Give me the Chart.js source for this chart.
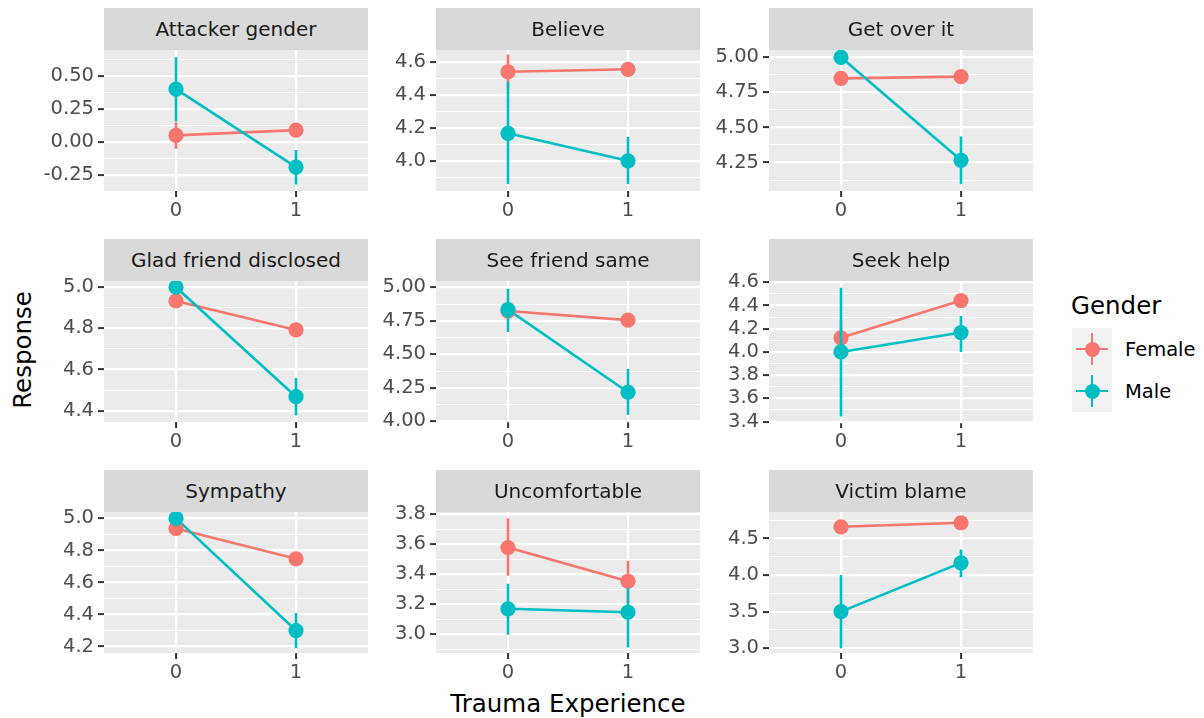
<!DOCTYPE html>
<html>
<head>
<meta charset="utf-8">
<script src="https://cdn.jsdelivr.net/npm/chart.js@4.4.1/dist/chart.umd.min.js"></script>
<style>
  body { margin: 0; background: #fff; font-family: "DejaVu Sans", sans-serif; }
  #wrap { position: relative; width: 1204px; height: 718px; overflow: hidden; }
  canvas { position: absolute; }
  .strip { position: absolute; background: #D9D9D9; color: #1A1A1A; font-size: 20px;
           display: flex; align-items: center; justify-content: center; z-index: 2; }
  .title { position: absolute; color: #000; font-size: 24.5px; white-space: nowrap; }
  .key { position: absolute; width: 40px; height: 42px; background: #F2F2F2; }
  .key .h { position: absolute; left: 4px; top: 19.6px; width: 32px; height: 2.8px; }
  .key .v { position: absolute; left: 18.6px; top: 5px; width: 2.8px; height: 32px; }
  .key .dot { position: absolute; left: 12.5px; top: 13.5px; width: 15px; height: 15px; border-radius: 50%; }
  .lab { position: absolute; color: #000; font-size: 19.5px; }
</style>
</head>
<body>
<div id="wrap"></div>
<script>
// ---------------- DATA ----------------
const panels = ['Attacker gender', 'Believe', 'Get over it',
                'Glad friend disclosed', 'See friend same', 'Seek help',
                'Sympathy', 'Uncomfortable', 'Victim blame'];
const trauma = [0, 1];

const femaleMean = [[0.05, 0.09], [4.54, 4.555], [4.85, 4.862], [4.933, 4.792], [4.823, 4.755],
                    [4.122, 4.443], [4.937, 4.748], [3.578, 3.353], [4.66, 4.715]];
const femaleLo = [[-0.05, 0.06], [4.44, 4.53], [4.80, 4.83], [4.90, 4.76], [4.79, 4.72],
                  [3.97, 4.41], [4.90, 4.72], [3.39, 3.21], [4.62, 4.66]];
const femaleHi = [[0.15, 0.12], [4.644, 4.58], [4.90, 4.89], [4.97, 4.83], [4.86, 4.79],
                  [4.27, 4.48], [4.97, 4.78], [3.773, 3.49], [4.70, 4.77]];

const maleMean = [[0.40, -0.19], [4.167, 4.0], [5.0, 4.266], [5.0, 4.468], [4.833, 4.217],
                  [4.0, 4.167], [5.0, 4.3], [3.169, 3.146], [3.5, 4.167]];
const maleLo = [[0.155, -0.32], [3.86, 3.86], [5.0, 4.096], [5.0, 4.377], [4.667, 4.05],
                [3.445, 4.0], [5.0, 4.19], [2.995, 2.91], [3.0, 3.97]];
const maleHi = [[0.64, -0.06], [4.48, 4.145], [5.0, 4.436], [5.0, 4.559], [4.99, 4.39],
                [4.553, 4.31], [5.0, 4.41], [3.336, 3.31], [4.0, 4.35]];

const yMin = [-0.37, 3.817, 4.047, 4.345, 3.995, 3.397, 4.16, 2.874, 2.935];
const yMax = [0.695, 4.672, 5.052, 5.03, 5.047, 4.611, 5.04, 3.815, 4.862];

const yTicks = [[-0.25, 0, 0.25, 0.5], [4.0, 4.2, 4.4, 4.6], [4.25, 4.5, 4.75, 5.0],
                [4.4, 4.6, 4.8, 5.0], [4.0, 4.25, 4.5, 4.75, 5.0], [3.4, 3.6, 3.8, 4.0, 4.2, 4.4, 4.6],
                [4.2, 4.4, 4.6, 4.8, 5.0], [3.0, 3.2, 3.4, 3.6, 3.8], [3.0, 3.5, 4.0, 4.5]];
const yTickLabels = [['-0.25', '0.00', '0.25', '0.50'], ['4.0', '4.2', '4.4', '4.6'],
                     ['4.25', '4.50', '4.75', '5.00'], ['4.4', '4.6', '4.8', '5.0'],
                     ['4.00', '4.25', '4.50', '4.75', '5.00'],
                     ['3.4', '3.6', '3.8', '4.0', '4.2', '4.4', '4.6'],
                     ['4.2', '4.4', '4.6', '4.8', '5.0'], ['3.0', '3.2', '3.4', '3.6', '3.8'],
                     ['3.0', '3.5', '4.0', '4.5']];

const FEMALE = '#F8766D';
const MALE = '#00BFC4';

// ---------------- LAYOUT ----------------
const colLeft = [104, 436, 769];
const stripTop = [8, 239, 470];
const plotW = 264, plotH = 141, stripH = 42;
const axisW = 64, axisH = 34, padTop = 12;
const wrap = document.getElementById('wrap');

const bgPlugin = {
  id: 'panelBg',
  beforeDraw(chart) {
    const a = chart.chartArea, c = chart.ctx;
    c.save();
    c.fillStyle = '#EBEBEB';
    c.fillRect(a.left, a.top, a.right - a.left, a.bottom - a.top);
    c.restore();
  }
};

function errData(lo, hi) {
  return [{ x: trauma[0], y: lo[0] }, { x: trauma[0], y: hi[0] }, { x: 0.5, y: null },
          { x: trauma[1], y: lo[1] }, { x: trauma[1], y: hi[1] }];
}
function ptData(m) {
  return trauma.map((t, i) => ({ x: t, y: m[i] }));
}

function drawPanel(p) {
  const row = Math.floor(p / 3), col = p % 3;
  const left = colLeft[col], top = stripTop[row] + stripH;

  const strip = document.createElement('div');
  strip.className = 'strip';
  strip.style.left = left + 'px';
  strip.style.top = stripTop[row] + 'px';
  strip.style.width = plotW + 'px';
  strip.style.height = stripH + 'px';
  strip.textContent = panels[p];
  wrap.appendChild(strip);

  const cv = document.createElement('canvas');
  cv.width = plotW + axisW;
  cv.height = plotH + padTop + axisH;
  cv.style.left = (left - axisW) + 'px';
  cv.style.top = (top - padTop) + 'px';
  wrap.appendChild(cv);

  // major ticks + minor ticks at the midpoints
  const major = yTicks[p];
  const step = major[1] - major[0];
  const minor = [major[0] - step / 2].concat(major.map(v => v + step / 2));
  const allTicks = major.concat(minor).filter(v => v >= yMin[p] && v <= yMax[p]).sort((a, b) => a - b);
  const isMajor = v => major.some(m => Math.abs(m - v) < 1e-6);

  const line = (data, color, order) => ({
    data, borderColor: color, backgroundColor: color, borderWidth: 2.6,
    pointRadius: 0, showLine: true, spanGaps: false, order, clip: 0
  });
  const pts = (data, color, order) => ({
    data, backgroundColor: color, borderColor: color, borderWidth: 0,
    pointRadius: 7.6, showLine: false, order, clip: 0
  });

  new Chart(cv, {
    type: 'line',
    data: {
      datasets: [
        pts(ptData(maleMean[p]), MALE, 0),
        line(errData(maleLo[p], maleHi[p]), MALE, 1),
        pts(ptData(femaleMean[p]), FEMALE, 2),
        line(errData(femaleLo[p], femaleHi[p]), FEMALE, 3),
        line(ptData(maleMean[p]), MALE, 4),
        line(ptData(femaleMean[p]), FEMALE, 5)
      ]
    },
    options: {
      responsive: false,
      animation: false,
      layout: { autoPadding: false, padding: { top: padTop, left: 0, right: 0, bottom: 0 } },
      plugins: { legend: { display: false }, tooltip: { enabled: false } },
      scales: {
        x: {
          type: 'linear', min: -0.6, max: 1.6,
          afterBuildTicks: s => { s.ticks = trauma.map(v => ({ value: v })); },
          afterFit: s => { s.height = axisH; s.paddingLeft = 0; s.paddingRight = 0; },
          border: { display: false },
          grid: { color: '#FFFFFF', lineWidth: 2.2, tickColor: '#333333', tickLength: 6, tickWidth: 2 },
          ticks: {
            color: '#4D4D4D', font: { family: 'DejaVu Sans', size: 19.5 }, padding: 2,
            autoSkip: false, maxRotation: 0, callback: v => String(v)
          }
        },
        y: {
          type: 'linear', min: yMin[p], max: yMax[p],
          afterBuildTicks: s => { s.ticks = allTicks.map(v => ({ value: v })); },
          afterFit: s => { s.width = axisW; s.paddingTop = 0; s.paddingBottom = 0; },
          border: { display: false },
          grid: {
            color: '#FFFFFF',
            lineWidth: ctx => (ctx.tick && isMajor(ctx.tick.value)) ? 2.2 : 1.1,
            tickColor: ctx => (ctx.tick && isMajor(ctx.tick.value)) ? '#333333' : 'rgba(0,0,0,0)',
            tickLength: 6, tickWidth: 2
          },
          ticks: {
            color: '#4D4D4D', font: { family: 'DejaVu Sans', size: 19.5 }, padding: 4,
            autoSkip: false,
            callback: v => {
              const i = major.findIndex(m => Math.abs(m - v) < 1e-6);
              return i >= 0 ? yTickLabels[p][i] : '';
            }
          }
        }
      }
    },
    plugins: [bgPlugin]
  });
}

for (let p = 0; p < panels.length; p++) drawPanel(p);

// ---------------- AXIS TITLES ----------------
const xt = document.createElement('div');
xt.className = 'title';
xt.textContent = 'Trauma Experience';
xt.style.left = '568px';
xt.style.top = '703px';
xt.style.transform = 'translate(-50%, -50%)';
wrap.appendChild(xt);

const yt = document.createElement('div');
yt.className = 'title';
yt.textContent = 'Response';
yt.style.left = '22px';
yt.style.top = '350px';
yt.style.transform = 'translate(-50%, -50%) rotate(-90deg)';
wrap.appendChild(yt);

// ---------------- LEGEND ----------------
const lg = document.createElement('div');
lg.className = 'title';
lg.textContent = 'Gender';
lg.style.left = '1071px';
lg.style.top = '305px';
lg.style.transform = 'translateY(-50%)';
wrap.appendChild(lg);

const legendNames = ['Female', 'Male'];
const legendColors = [FEMALE, MALE];
legendNames.forEach((name, i) => {
  const k = document.createElement('div');
  k.className = 'key';
  k.style.left = '1072px';
  k.style.top = (328 + i * 42) + 'px';
  k.innerHTML = '<div class="h"></div><div class="v"></div><div class="dot"></div>';
  k.querySelectorAll('div').forEach(d => { d.style.background = legendColors[i]; });
  wrap.appendChild(k);

  const t = document.createElement('div');
  t.className = 'lab';
  t.textContent = name;
  t.style.left = '1125px';
  t.style.top = (349 + i * 42) + 'px';
  t.style.transform = 'translateY(-50%)';
  wrap.appendChild(t);
});
</script>
</body>
</html>
